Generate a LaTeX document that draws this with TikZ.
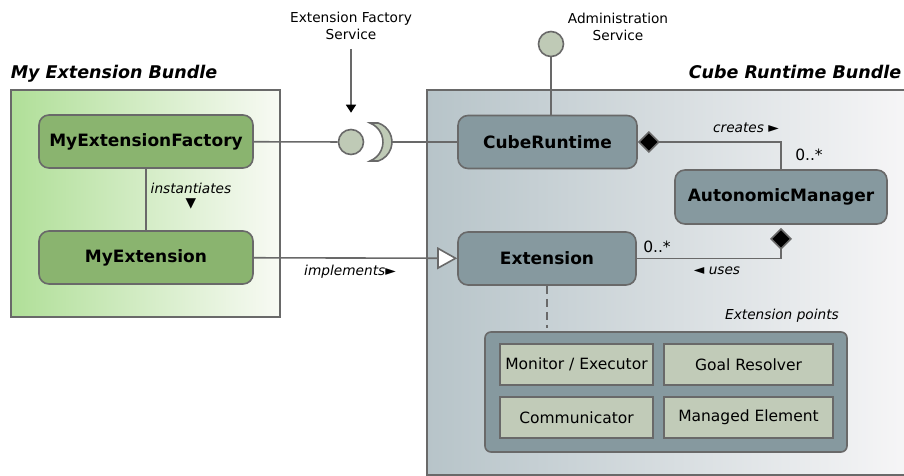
\documentclass[tikz,border=0pt]{standalone}
\usepackage{fontspec}
\setmainfont{DejaVu Sans}
\usetikzlibrary{arrows.meta}

\definecolor{linegray}{HTML}{696969}
\definecolor{greenleft}{HTML}{B0DF98}
\definecolor{greenright}{HTML}{F8FAF4}
\definecolor{greennode}{HTML}{8AB46F}
\definecolor{blueleft}{HTML}{B7C4C9}
\definecolor{blueright}{HTML}{F9F8F9}
\definecolor{bluenode}{HTML}{86999F}
\definecolor{ballfill}{HTML}{BFCAB6}
\definecolor{pointfill}{HTML}{C1CBB8}

\newcommand\boxfont{\fontsize{17}{20}\selectfont\bfseries}
\newcommand\bundlefont{\fontsize{17.5}{20}\selectfont\bfseries\itshape}
\newcommand\pointfont{\fontsize{15.5}{18}\selectfont}
\newcommand\notefont{\fontsize{13.7}{17.5}\selectfont}

\begin{document}
\begin{tikzpicture}[x=1pt, y=-1pt, line width=1.6pt,
        green box/.style={draw=linegray, fill=greennode, rounded corners=10pt,
            minimum width=214pt, minimum height=53pt, font=\boxfont},
        blue box/.style={draw=linegray, fill=bluenode, rounded corners=10pt,
            minimum height=53pt, font=\boxfont},
        point box/.style={draw=linegray, fill=pointfill, minimum height=41pt,
            inner sep=0pt, font=\pointfont},
        bundle title/.style={inner sep=0pt, font=\bundlefont},
        note/.style={font=\notefont, align=center, inner sep=1pt},
        role/.style={font=\notefont\itshape, inner sep=1pt},
        mult/.style={font=\pointfont, inner sep=1pt},
        conn/.style={draw=linegray},
        owns/.style={conn, -{Diamond[fill=black, length=22pt, width=22pt]}},
        realizes/.style={conn, -{Triangle[open, fill=white, length=20pt, width=22pt]}}]

    % page
        \useasboundingbox (0,0) rectangle (904,476);
        \clip (0,0) rectangle (904,476);

    % bundles
        \shadedraw[left color=greenleft, right color=greenright, draw=linegray] (11,90) rectangle (280,317);
        \shadedraw[left color=blueleft, right color=blueright, draw=linegray] (427,90) rectangle (930,475);
        \node[bundle title, anchor=base west] (mytitle) at (10,79) {My Extension Bundle};
        \node[bundle title, anchor=base east] (cubetitle) at (902,79) {Cube Runtime Bundle};

    % provided and required services
        \node[note] (efs) at (351,26) {Extension Factory\\Service};
        \node[note] (ads) at (618,27) {Administration\\Service};
        \node[circle, draw=linegray, fill=ballfill, minimum size=25pt, inner sep=0pt] (ball) at (351,142) {};
        \node[circle, draw=linegray, fill=ballfill, minimum size=25pt, inner sep=0pt] (adball) at (551,44) {};
        \filldraw[draw=linegray, fill=ballfill] (378.2,123)
            arc[start angle=-71.8, end angle=71.8, radius=20] -- (370,161)
            arc[start angle=68.6, end angle=-68.6, radius=20.4] -- cycle;
        \coordinate (sock) at (392,142);

    % components
        \node[green box] (MyExtensionFactory) at (146,141.5) {MyExtensionFactory};
        \node[green box] (MyExtension) at (146,257.5) {MyExtension};
        \node[blue box, minimum width=179pt] (CubeRuntime) at (547.5,142) {CubeRuntime};
        \node[blue box, minimum width=178pt] (Extension) at (547,258.5) {Extension};
        \node[blue box, minimum width=212pt, minimum height=54pt] (AutonomicManager) at (781,197) {AutonomicManager};

    % extension points
        \node[draw=linegray, fill=bluenode, rounded corners=6pt, minimum width=362pt, minimum height=120pt] (points) at (666,392) {};
        \node[role] (pointslabel) at (782,316) {Extension points};
        \node[point box, minimum width=153pt] (monitor) at (576.5,364.5) {Monitor / Executor};
        \node[point box, minimum width=169pt] (goal) at (748.5,364.5) {Goal Resolver};
        \node[point box, minimum width=153pt] (comm) at (576.5,417.5) {Communicator};
        \node[point box, minimum width=169pt] (managed) at (748.5,417.5) {Managed Element};

    % connectors
        \draw[conn, -{Triangle[black, length=8pt, width=10pt]}, shorten <=7pt, shorten >=16pt] (efs) -- (ball);
        \draw[conn] (MyExtensionFactory) -- (ball);
        \draw[conn] (sock) -- (CubeRuntime.west);
        \draw[conn] (adball) -- (adball |- CubeRuntime.north);
        \draw[conn] (MyExtensionFactory) -- (MyExtension);
        \draw[realizes] (MyExtension) -- (Extension);
        \draw[owns] (AutonomicManager.north) |- (CubeRuntime.east);
        \draw[owns, shorten >=3pt] (Extension.east) -| (AutonomicManager.south);
        \draw[conn, dash pattern=on 8pt off 5pt] (Extension.south) -- ++(0,42);

    % association labels
        \node[role, align=center] (inst) at (191,196) {instantiates\\[-3pt]▼};
        \node[role] (impl) at (350,272) {implements►};
        \node[role] (creates) at (746,128) {creates ►};
        \node[role] (uses) at (717,271) {◄ uses};
        \node[mult] (amult) at (809,155) {0..*};
        \node[mult] (emult) at (657,247) {0..*};

\end{tikzpicture}
\end{document}
